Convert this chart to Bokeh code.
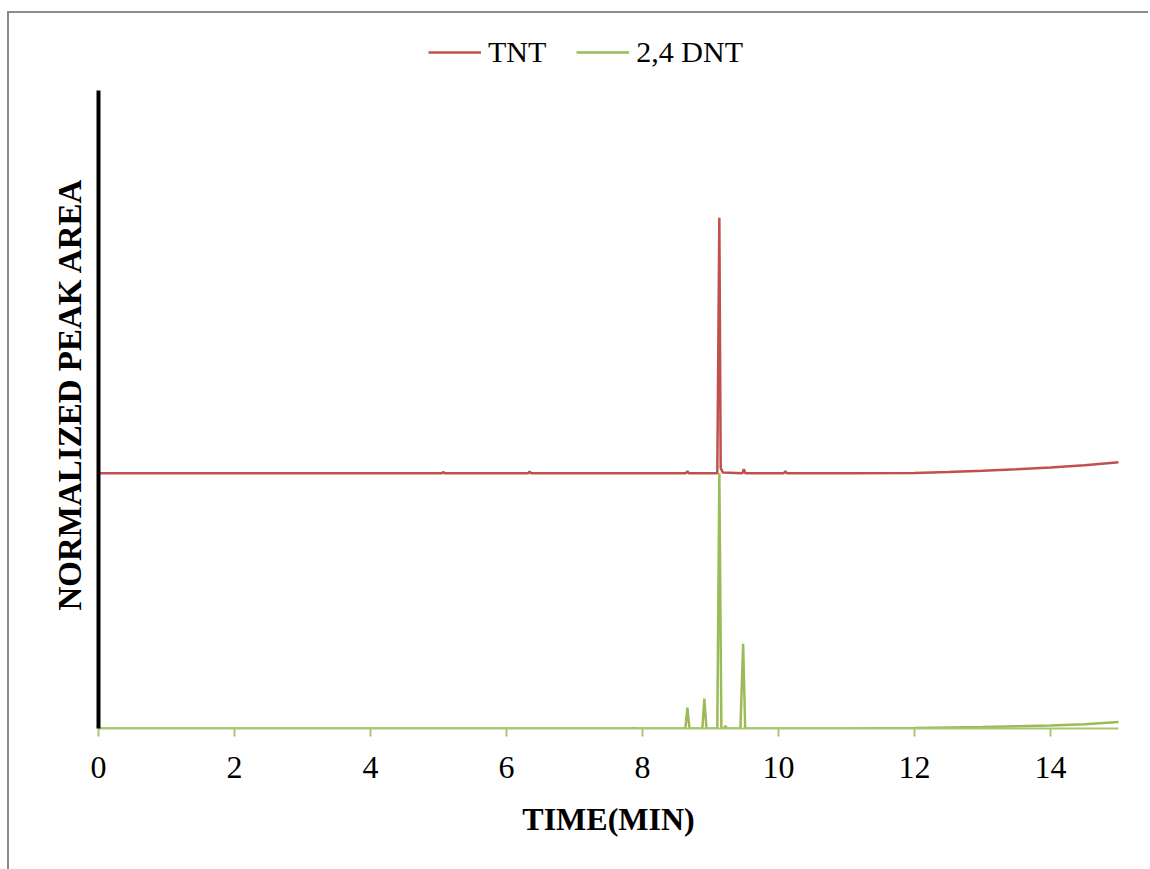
from bokeh.plotting import figure
from bokeh.models import Legend, LegendItem, Range1d, FixedTicker, Title
from bokeh.embed import file_html
from bokeh.resources import INLINE

# Chromatogram traces (time in minutes, normalized signal; TNT trace offset by 1)
tnt_time = [0.0, 5.05, 5.07, 5.09, 6.32, 6.34, 6.36, 8.64, 8.66, 8.68,
            9.10, 9.13, 9.15, 9.18, 9.47, 9.49, 9.51, 10.08, 10.10, 10.12,
            11.0, 12.0, 12.5, 13.0, 13.5, 14.0, 14.5, 15.05]
tnt_signal = [1.0, 1.0, 1.004, 1.0, 1.0, 1.006, 1.0, 1.0, 1.008, 1.0,
              1.0, 2.0, 1.02, 1.003, 1.0, 1.016, 1.0, 1.0, 1.008, 1.0,
              1.0, 1.001, 1.004, 1.009, 1.015, 1.022, 1.031, 1.044]

dnt_time = [0.0, 7.85, 7.87, 7.89, 8.63, 8.66, 8.69, 8.88, 8.91, 8.94,
            9.10, 9.13, 9.16, 9.20, 9.22, 9.24, 9.44, 9.48, 9.51,
            11.0, 12.0, 13.0, 14.0, 14.5, 15.05]
dnt_signal = [0.0, 0.0, 0.003, 0.0, 0.0, 0.082, 0.0, 0.0, 0.117, 0.0,
              0.0, 1.0, 0.0, 0.0, 0.01, 0.0, 0.0, 0.332, 0.0,
              0.0, 0.002, 0.006, 0.012, 0.017, 0.026]

x_ticks = [0, 2, 4, 6, 8, 10, 12, 14]

TNT_COLOR = "#C0504D"
DNT_COLOR = "#9BBB59"
AXIS_GREEN = "#A9C773"
SERIF = "Liberation Serif"

# canvas starts just inside the chart-area border drawn by the host element;
# the frame reaches the top so the legend can sit inside it
p = figure(width=1141, height=858, output_backend="svg", toolbar_location=None,
           title=None,
           x_range=Range1d(0, 15), y_range=Range1d(0, 2.8),
           min_border_left=89, min_border_right=32,
           min_border_top=0, min_border_bottom=143,
           background_fill_color="white", border_fill_color="white",
           styles={"margin-left": "7px", "margin-top": "11px",
                   "border-left": "2px solid #8C8C8C",
                   "border-top": "2px solid #8C8C8C"})

p.xgrid.visible = False
p.ygrid.visible = False
p.outline_line_color = None

# x axis: green line with outward ticks
p.xaxis.ticker = FixedTicker(ticks=x_ticks)
p.xaxis.axis_line_color = AXIS_GREEN
p.xaxis.axis_line_width = 2
p.xaxis.major_tick_line_color = AXIS_GREEN
p.xaxis.major_tick_line_width = 2
p.xaxis.major_tick_out = 8
p.xaxis.major_tick_in = 0
p.xaxis.minor_tick_out = 0
p.xaxis.minor_tick_in = 0
p.xaxis.major_label_text_font = SERIF
p.xaxis.major_label_text_font_size = "32px"
p.xaxis.major_label_text_color = "black"
p.xaxis.major_label_standoff = 20
p.xaxis.axis_label = "TIME(MIN)"
p.xaxis.axis_label_text_font = SERIF
p.xaxis.axis_label_text_font_style = "bold"
p.xaxis.axis_label_text_font_size = "32px"
p.xaxis.axis_label_text_color = "black"
p.xaxis.axis_label_standoff = 20

# y axis: heavy black line limited to the plotted span, no ticks or labels
p.yaxis.bounds = (0, 2.5)
p.yaxis.ticker = FixedTicker(ticks=[])
p.yaxis.axis_line_color = "black"
p.yaxis.axis_line_width = 4
p.yaxis.major_tick_out = 0
p.yaxis.major_tick_in = 0
p.yaxis.minor_tick_out = 0
p.yaxis.minor_tick_in = 0

# vertical axis title, starting a little above the x axis
y_title = Title(text="NORMALIZED PEAK AREA", align="left", offset=118,
                standoff=22, text_font=SERIF, text_font_style="bold",
                text_font_size="33px", text_color="black")
p.add_layout(y_title, "left")

r_dnt = p.line(dnt_time, dnt_signal, line_color=DNT_COLOR, line_width=2.5)
r_tnt = p.line(tnt_time, tnt_signal, line_color=TNT_COLOR, line_width=2.5)

legend = Legend(items=[LegendItem(label="TNT", renderers=[r_tnt]),
                       LegendItem(label="2,4 DNT", renderers=[r_dnt])],
                orientation="horizontal", location=(330, 659),
                glyph_width=53, glyph_height=20, label_standoff=7, spacing=30,
                padding=0, margin=0, border_line_color=None,
                background_fill_alpha=0,
                label_text_font=SERIF, label_text_font_size="30px",
                label_text_color="black")
p.add_layout(legend, "center")

open("out.html", "w").write(file_html(p, INLINE))
